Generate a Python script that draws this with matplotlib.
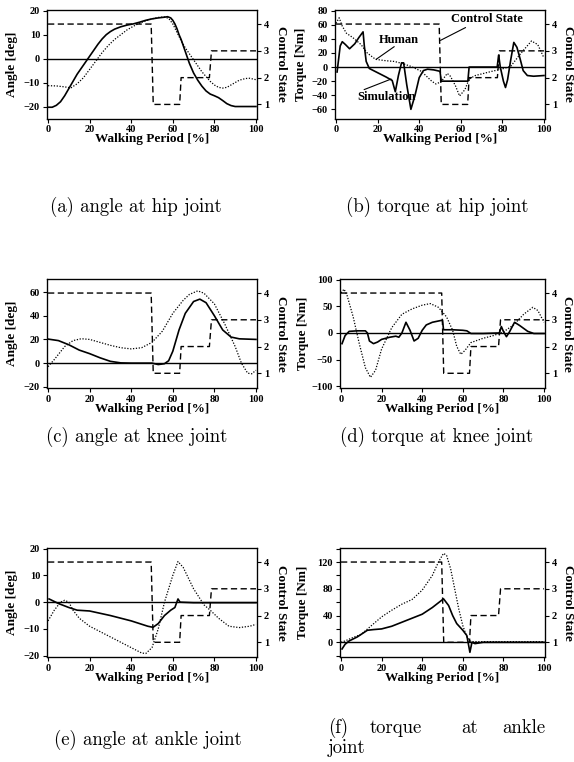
import numpy as np
import matplotlib
matplotlib.use('Agg')
import matplotlib.pyplot as plt

plt.rcParams['font.family'] = ['Liberation Serif', 'DejaVu Serif']
plt.rcParams['font.weight'] = 'bold'

# control state (same for every joint)
cs_t = [0, 49.6, 50.6, 63.3, 64.0, 77.6, 78.6, 100]
cs_v = [4, 4, 1, 1, 2, 2, 3, 3]

# (a) hip angle
a_sim_t = [0, 2, 4, 6, 8, 10, 12, 14, 16, 18, 20, 22, 24, 26, 28, 30, 32, 35, 38, 41, 44, 47, 50, 53, 56, 57.5,
           59, 60, 61, 62, 63, 64, 66, 68, 70, 72, 74, 76, 78, 80, 82, 84, 86, 88, 90, 95, 100]
a_sim = [-20.3, -20.3, -19.5, -18, -15.5, -12.5, -9.5, -6.5, -4, -1.5, 1, 3.5, 6, 8.2, 10, 11.3, 12.3, 13.3,
         14, 14.5, 15.2, 16, 16.6, 17, 17.3, 17.5, 17, 16, 14.5, 12.5, 10, 8, 3, -2, -6, -9, -11.5, -13.5,
         -14.8, -15.5, -16.3, -17.5, -18.8, -19.6, -20, -20, -20]
a_hum_t = [0, 4, 8, 11, 14, 17, 20, 23, 26, 29, 32, 35, 38, 41, 44, 47, 50, 53, 56, 58, 60, 62, 64, 66, 68,
           70, 72, 74, 76, 78, 80, 82, 84, 86, 88, 90, 92, 95, 97, 100]
a_hum = [-11.3, -11.4, -11.8, -12.2, -10.5, -8, -4.5, -1, 2.5, 5.5, 8, 10, 12, 13.5, 14.8, 15.8, 16.6, 17.2,
         17.4, 16.8, 14.5, 11, 7.5, 4.5, 2, -0.5, -3, -5.5, -7.5, -9.5, -11, -12, -12.3, -12, -11, -10, -9,
         -8.3, -8.2, -8.8]

# (b) hip torque
b_sim_t = [0.5, 2, 3, 4.5, 6.5, 9, 11, 13, 13.6, 14.5, 16, 20, 24, 27, 28.5, 30, 31.5, 32.5, 34, 36, 38, 40,
           42, 44, 47, 50, 50.6, 55, 63.4, 64, 70, 77.5, 78.2, 79, 80.5, 81.5, 82.5, 84, 85.5, 87, 88.5, 90,
           92, 95, 100]
b_sim = [-7, 30, 36, 32, 26, 33, 42, 50, 30, 8, -2, -8, -14, -19, -35, -12, 6, 6, -25, -60, -40, -15, -5,
         -3, -4, -6, -20, -20, -20, 0, 0, 0, 17, 0, -20, -29, -18, 10, 35, 28, 12, -5, -12, -13, -12]
b_hum_t = [0, 1.5, 3, 5, 8, 12, 15, 19, 24, 28, 32, 36, 41, 46, 48, 50.5, 53.5, 55, 57.5, 59.4, 62, 64, 67,
           71, 75, 79.5, 84, 89, 94, 97, 100]
b_hum = [62, 70, 58, 48, 42, 32, 20, 11, 9, 8, 5, 1, -6, -20, -24, -21, -9, -13, -27, -41, -32, -17, -12,
         -9, -6, -3, 1, 20, 37, 32, 13]

# (c) knee angle
c_sim_t = [0, 5, 10, 15, 20, 25, 30, 35, 40, 45, 50, 53, 56, 58, 60, 63, 66, 70, 73, 76, 80, 84, 88, 92, 100]
c_sim = [20.3, 19, 15.5, 11, 8, 4.5, 1.5, 0.2, 0, 0, 0, -1.2, -0.5, 2, 10, 28, 42, 52, 54, 51, 40, 28, 22,
         20.5, 20]
c_hum_t = [0, 3, 8, 12, 16, 20, 25, 30, 35, 40, 45, 50, 55, 60, 65, 68, 72, 75, 80, 85, 90, 93, 96, 98, 100]
c_hum = [-3, 3, 14, 19, 20.6, 20, 17.5, 15, 13, 12, 13, 17.5, 27, 42, 53, 58, 61, 59, 50, 33, 14, 0, -8.5,
         -9, -6]

# (d) knee torque
d_sim_t = [0.5, 2, 4, 8, 12, 13, 14, 16, 18, 20, 24, 27, 28.5, 30, 32, 34, 36, 38, 40, 42, 45, 50, 50.5, 55,
           60, 62, 64, 70, 78, 79, 80, 81.5, 83, 85.5, 88, 92, 95, 100]
d_sim = [-20, -5, 3, 4, 4, 0, -15, -20, -17, -12, -8, -6, -8, 0, 20, 5, -15, -10, 5, 15, 20, 24, 6, 6, 5, 4,
         -1, -1, 0, 12, 3, -7, 2, 20, 14, 3, -1, -1]
d_hum_t = [0, 1.5, 3, 6, 9, 12, 14.5, 17, 20, 25, 30, 35, 40, 44, 48, 52, 55, 57, 59, 61, 64, 70, 75, 80,
           85, 90, 94.5, 97, 100]
d_hum = [75, 82, 70, 30, -20, -65, -83, -70, -30, 10, 35, 45, 52, 55, 48, 30, 5, -25, -40, -33, -18, -10,
         -5, 2, 15, 35, 48, 42, 20]

# (e) ankle angle
e_sim_t = [0.5, 5, 10, 14, 20, 30, 40, 48, 50.5, 53, 56, 59, 61, 62.5, 63.5, 70, 100]
e_sim = [1.2, -0.5, -2, -3, -3.3, -5, -7, -9, -9.4, -8, -5, -3, -2, 1.2, 0, -0.2, -0.2]
e_hum_t = [0, 3, 6, 8, 10, 12, 15, 20, 25, 30, 35, 40, 45, 47, 50, 53, 56, 60, 62.5, 65, 70, 75, 78, 82,
           87, 92, 97, 100]
e_hum = [-7, -3, 0, 0.7, 0, -3, -6, -9, -11, -13, -15, -17, -19, -19.2, -17, -10, 0, 10, 15.2, 13, 5, -1,
         -3, -6, -9, -9.5, -9, -8.3]

# (f) ankle torque
f_sim_t = [0.5, 2, 4, 8, 12, 13, 16, 20, 25, 30, 35, 40, 45, 50.5, 53, 55, 57, 60, 62, 63.5, 64.5, 66, 70,
           100]
f_sim = [-10, -3, 2, 8, 16, 18, 19, 20, 24, 30, 36, 42, 52, 65, 55, 40, 28, 18, 10, -15, 0, -2, 0, 0]
f_hum_t = [0, 2, 5, 10, 15, 20, 25, 30, 35, 40, 45, 48, 50.5, 52, 54, 56, 58, 60, 62, 64, 70, 100]
f_hum = [0, 2, 6, 12, 25, 38, 48, 57, 64, 78, 100, 120, 133, 130, 110, 80, 50, 25, 8, 1, 1, 1]

W, H = 574, 762
fig = plt.figure(figsize=(W / 100, H / 100), dpi=100)


def panel(l, t, r, b, ylim, yticks, ylab, yl_x, cs_lim, sim_t, sim, hum_t, hum, minor=None, yr_x=1.15):
    ax = fig.add_axes([l / W, 1 - b / H, (r - l) / W, (b - t) / H])
    ax.axhline(0, color='k', lw=1.0)
    ax.plot(hum_t, hum, color='k', lw=0.9, ls=(0, (1, 1.3)))
    ax.plot(sim_t, sim, color='k', lw=1.2)
    ax.set_xlim(-0.5, 100.5)
    ax.set_ylim(*ylim)
    ax.set_xticks([0, 20, 40, 60, 80, 100])
    ax.set_yticks(yticks)
    if minor is not None:
        ax.set_yticks(minor, minor=True)
    ax.tick_params(direction='out', length=3, width=0.8, labelsize=7.5, pad=2)
    ax.tick_params(which='minor', direction='out', length=3, width=0.8)
    ax.set_xlabel('Walking Period [%]', fontsize=9.5, fontweight='bold', labelpad=0)
    ax.xaxis.set_label_coords(0.5, -0.135)
    ax.set_ylabel(ylab, fontsize=9.5, fontweight='bold')
    ax.yaxis.set_label_coords(yl_x, 0.5)
    for s in ax.spines.values():
        s.set_linewidth(0.9)
    ax2 = ax.twinx()
    ax2.plot(cs_t, cs_v, color='k', lw=1.0, ls=(0, (4.5, 2.5)))
    ax2.set_ylim(*cs_lim)
    ax2.set_yticks([1, 2, 3, 4])
    ax2.tick_params(direction='out', length=3, width=0.8, labelsize=7.5, pad=2)
    ax2.set_ylabel('Control State', fontsize=9.5, fontweight='bold', rotation=-90)
    ax2.yaxis.set_label_coords(yr_x, 0.5)
    return ax, ax2


panel(47, 10, 257, 118.5, (-25, 20.3), [-20, -10, 0, 10, 20], 'Angle [deg]', -0.138, (0.475, 4.525),
      a_sim_t, a_sim, a_hum_t, a_hum, yr_x=1.145)
axb, axb2 = panel(335, 10, 545, 118.5, (-73, 81), [-60, -40, -20, 0, 20, 40, 60, 80], 'Torque [Nm]', -0.135,
                  (0.475, 4.525), b_sim_t, b_sim, b_hum_t, b_hum, yr_x=1.14)
panel(47, 279, 257, 388, (-21, 71), [-20, 0, 20, 40, 60], 'Angle [deg]', -0.138, (0.45, 4.525),
      c_sim_t, c_sim, c_hum_t, c_hum, yr_x=1.145)
panel(340, 279, 545, 388, (-103, 101), [-100, -50, 0, 50, 100], 'Torque [Nm]', -0.15, (0.45, 4.525),
      d_sim_t, d_sim, d_hum_t, d_hum, yr_x=1.137)
panel(47, 548, 257, 657, (-20.5, 20.25), [-20, -10, 0, 10, 20], 'Angle [deg]', -0.138, (0.45, 4.525),
      e_sim_t, e_sim, e_hum_t, e_hum, yr_x=1.145)
panel(340, 548, 545, 657, (-22, 141), [0, 40, 80, 120], 'Torque [Nm]', -0.15, (0.45, 4.525),
      f_sim_t, f_sim, f_hum_t, f_hum, minor=[-20, 20, 60, 100, 140], yr_x=1.14)

# labels inside (b)
lp = dict(arrowstyle='-', lw=0.8, color='k', shrinkA=0, shrinkB=0)
axb.text(30, 38, 'Human', fontsize=9, fontweight='bold', ha='center', va='center')
axb.annotate('', xy=(19.3, 11), xytext=(28, 29), arrowprops=lp)
axb.text(24.4, -43, 'Simulation', fontsize=9, fontweight='bold', ha='center', va='center')
axb.annotate('', xy=(26.5, -17), xytext=(13.5, -32), arrowprops=lp)
axb2.text(72.5, 4.2, 'Control State', fontsize=9, fontweight='bold', ha='center', va='center')
axb2.annotate('', xy=(50.2, 3.39), xytext=(62.3, 3.87), arrowprops=lp)

# captions
cap = dict(family='cmr10', fontsize=13.5, fontweight='normal', va='center')
fig.text(136 / W, 1 - 207 / H, '(a) angle at hip joint', ha='center', **cap)
fig.text(437 / W, 1 - 207 / H, '(b) torque at hip joint', ha='center', **cap)
fig.text(137 / W, 1 - 437 / H, '(c) angle at knee joint', ha='center', **cap)
fig.text(437 / W, 1 - 437 / H, '(d) torque at knee joint', ha='center', **cap)
fig.text(148 / W, 1 - 740 / H, '(e) angle at ankle joint', ha='center', **cap)
fig.text(328 / W, 1 - 728 / H, '(f)', ha='left', **cap)
fig.text(396 / W, 1 - 728 / H, 'torque', ha='center', **cap)
fig.text(470 / W, 1 - 728 / H, 'at', ha='center', **cap)
fig.text(545 / W, 1 - 728 / H, 'ankle', ha='right', **cap)
fig.text(328 / W, 1 - 748 / H, 'joint', ha='left', **cap)

fig.savefig('out.png', dpi=100)
